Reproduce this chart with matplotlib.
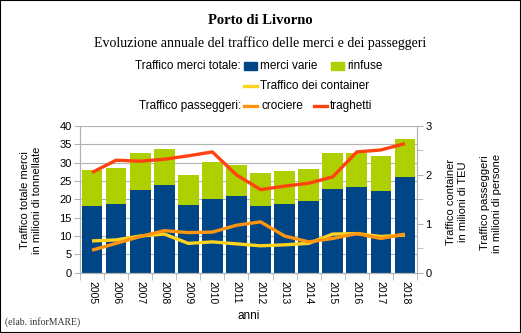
"""Porto di Livorno: annual freight and passenger traffic, 2005-2018."""
import matplotlib
import numpy as np

matplotlib.use("Agg")
import matplotlib.pyplot as plt
from matplotlib.lines import Line2D
from matplotlib.patches import Rectangle

YEARS = ["2005", "2006", "2007", "2008", "2009", "2010", "2011",
         "2012", "2013", "2014", "2015", "2016", "2017", "2018"]
# million tonnes
MERCI_VARIE = [18.2, 18.7, 22.5, 24.0, 18.5, 20.0, 20.9, 18.3, 18.7, 19.6, 22.7, 23.5, 22.4, 26.2]
TOTALE = [28.0, 28.5, 32.7, 33.8, 26.6, 30.1, 29.5, 27.3, 27.8, 28.2, 32.6, 32.7, 31.9, 36.4]
RINFUSE = [t - m for t, m in zip(TOTALE, MERCI_VARIE)]
# million TEU / million passengers
CONTAINER = [0.65, 0.67, 0.75, 0.79, 0.60, 0.63, 0.59, 0.55, 0.57, 0.60, 0.79, 0.80, 0.74, 0.77]
CROCIERE = [0.46, 0.60, 0.74, 0.86, 0.82, 0.83, 0.97, 1.04, 0.75, 0.63, 0.70, 0.80, 0.70, 0.79]
TRAGHETTI = [2.05, 2.30, 2.28, 2.32, 2.39, 2.47, 2.00, 1.70, 1.77, 1.83, 1.96, 2.47, 2.51, 2.64]

BLUE, GREEN = "#004586", "#aecf00"
YELLOW, ORANGE, RED = "#ffd320", "#ff950e", "#ff420e"
GRID = "#b3b3b3"
SANS = "Liberation Sans"
SERIF = "Liberation Serif"
W, H = 521, 333


def fx(px):
    return px / W


def fy(py):
    return 1 - py / H


def main() -> None:
    fig = plt.figure(figsize=(W / 100, H / 100), dpi=100)
    ax = fig.add_axes([fx(80), fy(272.7), fx(417) - fx(80), (272.7 - 126) / H])
    ax2 = ax.twinx()
    x = np.arange(len(YEARS))

    ax.bar(x, MERCI_VARIE, 0.86, color=BLUE, zorder=2)
    ax.bar(x, RINFUSE, 0.86, bottom=MERCI_VARIE, color=GREEN, zorder=2)
    ax.set_xlim(-0.5, len(YEARS) - 0.5)
    ax.set_ylim(0, 40)
    ax.set_yticks(np.arange(0, 41, 5))
    ax.grid(axis="y", color=GRID, linewidth=0.8, zorder=0)
    ax.set_axisbelow(True)
    ax.set_xticks(x, YEARS, rotation=270, fontsize=7.5, family=SANS)
    ax.set_xticks(np.arange(-0.5, len(YEARS)), minor=True)
    ax.tick_params(axis="x", which="major", length=0, pad=6)
    ax.tick_params(axis="x", which="minor", length=5, color=GRID)
    ax.tick_params(axis="y", length=4, color=GRID, labelsize=8, pad=2)
    for lab in ax.get_yticklabels():
        lab.set_family(SANS)

    for data, color in ((CONTAINER, YELLOW), (CROCIERE, ORANGE), (TRAGHETTI, RED)):
        ax2.plot(x, data, color=color, linewidth=2.4, solid_capstyle="butt", zorder=3)
    ax2.set_ylim(0, 3)
    ax2.set_yticks([0, 1, 2, 3])
    ax2.set_yticks(np.arange(0.5, 3, 1), minor=True)
    ax2.tick_params(axis="y", which="both", length=4, color=GRID, labelsize=8, pad=2)
    for lab in ax2.get_yticklabels():
        lab.set_family(SANS)

    for a in (ax, ax2):
        a.spines["top"].set_visible(False)
        for side in ("left", "right", "bottom"):
            a.spines[side].set_color(GRID)
            a.spines[side].set_linewidth(0.8)

    fig.text(fx(31), fy(200), "Traffico totale merci\nin milioni di tonnellate", rotation=90,
             ha="center", va="center", multialignment="center", fontsize=8, family=SANS)
    fig.text(fx(457), fy(202), "Traffico container\nin milioni di TEU", rotation=90,
             ha="center", va="center", multialignment="center", fontsize=8, family=SANS)
    fig.text(fx(491), fy(203), "Traffico passeggeri\nin milioni di persone", rotation=90,
             ha="center", va="center", multialignment="center", fontsize=8, family=SANS)
    fig.text(fx(248.5), fy(316), "anni", ha="center", va="center", fontsize=8.5, family=SANS)

    fig.text(fx(260), fy(21), "Porto di Livorno", ha="center", va="center",
             fontsize=10.5, weight="bold", family=SERIF)
    fig.text(fx(260), fy(43), "Evoluzione annuale del traffico delle merci e dei passeggeri",
             ha="center", va="center", fontsize=10, family=SERIF)
    fig.text(fx(5), fy(322), "(elab. inforMARE)", ha="left", va="center",
             fontsize=7, family=SERIF, color="#333333")

    # hand-placed legend
    def patch(px, py, color):
        fig.add_artist(Rectangle((fx(px), fy(py + 4)), fx(13), 8 / H,
                                 transform=fig.transFigure, color=color))

    def line(px, py, color):
        fig.add_artist(Line2D([fx(px), fx(px + 13)], [fy(py), fy(py)],
                              transform=fig.transFigure, color=color, linewidth=2.4))

    def label(px, py, s, ha="left"):
        fig.text(fx(px), fy(py), s, ha=ha, va="center", fontsize=8.5, family=SANS)

    label(241, 66, "Traffico merci totale:", ha="right")
    patch(244, 66, BLUE)
    label(260, 66, "merci varie")
    patch(331, 66, GREEN)
    label(347, 66, "rinfuse")
    line(244, 86, YELLOW)
    label(260, 86, "Traffico dei container")
    label(241, 106, "Traffico passeggeri:", ha="right")
    line(244, 106, ORANGE)
    label(261, 106, "crociere")
    line(314, 106, RED)
    label(330, 106, "traghetti")

    fig.add_artist(Rectangle((0, 0), 1, 1, transform=fig.transFigure, fill=False,
                             edgecolor="black", linewidth=1.5))
    fig.savefig("out.png", dpi=100)
    plt.close(fig)


if __name__ == "__main__":
    main()
